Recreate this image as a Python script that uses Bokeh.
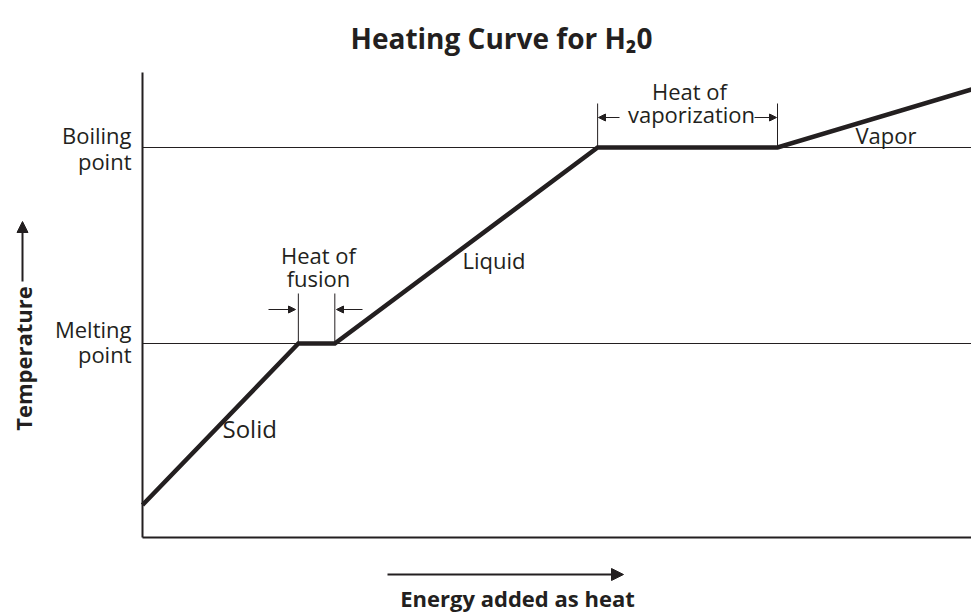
from bokeh.plotting import figure
from bokeh.models import Range1d, Label, Arrow, NormalHead
from bokeh.embed import file_html
from bokeh.resources import INLINE

# ---- data (energy in arbitrary units, temperature: melting = 0, boiling = 100)
energy = [0.0, 18.8, 23.2, 54.9, 76.6, 100.0]
temperature = [-82.4, 0.0, 0.0, 100.0, 100.0, 129.6]
tick_values = [0.0, 100.0]
tick_labels = ["Melting\npoint", "Boiling\npoint"]
phase_labels = ["Solid", "Liquid", "Vapor"]
title_text = "Heating Curve for H\u20820"
x_title = "Energy added as heat"
y_title = "Temperature"

INK = "#231f20"
FONT = "Open Sans"

# ---- layout (pixel geometry of the picture)
W, H = 971, 613
FL, FR, FT, FB = 142, 971, 72, 537          # plotting area edges
Y_MELT_PX, Y_BOIL_PX = 343, 147
yscale = (Y_MELT_PX - Y_BOIL_PX) / (tick_values[1] - tick_values[0])
TEXT_DY = -9   # baseline correction for labels


def dx(px):
    return (px - FL) / (FR - FL) * 100.0


def dy(py):
    return (Y_MELT_PX - py) / yscale


p = figure(width=W, height=H, title=None,
           x_range=Range1d(dx(0), dx(W)),
           y_range=Range1d(dy(H), dy(0)),
           output_backend="svg", toolbar_location=None,
           min_border_left=0, min_border_right=0,
           min_border_top=0, min_border_bottom=0)
p.outline_line_color = None
p.grid.visible = False
p.axis.visible = False
p.background_fill_color = "white"
p.border_fill_color = "white"

x_lo, y_lo, y_hi = 0.0, dy(FB), dy(FT)

# axes lines
p.line([x_lo, x_lo], [y_lo, y_hi], line_color=INK, line_width=2)
p.line([x_lo, 100.0], [y_lo, y_lo], line_color=INK, line_width=2)

# reference lines at melting and boiling points
p.segment(x0=[x_lo] * len(tick_values), y0=tick_values,
          x1=[100.0] * len(tick_values), y1=tick_values,
          line_color=INK, line_width=1)

# heating curve
p.line(energy, temperature, line_color=INK, line_width=4.5, line_join="miter")

# brackets for heats of fusion / vaporization
bx = [energy[1], energy[2], energy[3], energy[4]]
by0 = [temperature[1], temperature[2], temperature[3], temperature[4]]
by1 = [dy(293), dy(293), dy(103), dy(103)]
p.segment(x0=bx, y0=by0, x1=bx, y1=by1, line_color=INK, line_width=1)


def arrow(x0, y0, x1, y1, size, lw):
    p.add_layout(Arrow(x_start=x0, y_start=y0, x_end=x1, y_end=y1,
                       line_color=INK, line_width=lw,
                       end=NormalHead(size=size, fill_color=INK, line_color=INK, line_width=1)))


arrow(dx(268), dy(309), dx(295), dy(309), 7, 1)
arrow(dx(362), dy(309), dx(336), dy(309), 7, 1)
arrow(dx(619), dy(117), dx(598), dy(117), 7, 1)
arrow(dx(754), dy(117), dx(776), dy(117), 7, 1)


def label(text, px, py, size=22, align="left", bold=False, angle=0, shift=True):
    if shift:
        if angle == 0:
            py = py + TEXT_DY
        else:
            px = px + TEXT_DY
    p.add_layout(Label(x=dx(px), y=dy(py), text=text, text_color=INK,
                       text_font=FONT, text_font_size=f"{size}px",
                       text_font_style="bold" if bold else "normal",
                       text_align=align, text_baseline="alphabetic",
                       angle=angle, angle_units="deg"))


# phase labels
label(phase_labels[0], 222, 437, size=24)
label(phase_labels[1], 462, 268)
label(phase_labels[2], 855, 143)

# bracket labels
label("Heat of", 318, 263, align="center")
label("fusion", 318, 286, align="center")
label("Heat of", 689, 99, align="center")
label("vaporization", 691, 122, align="center")

# y tick labels (two lines, right aligned)
tick_px = {0.0: (337, 362), 100.0: (143, 169)}
for v, t in zip(tick_values, tick_labels):
    l1, l2 = t.split("\n")
    b1, b2 = tick_px[v]
    label(l1, 131, b1, align="right")
    label(l2, 131, b2, align="right")

# title
label(title_text, 501, 37, size=28, align="center", bold=True, shift=False)

# x axis title with arrow
arrow(dx(387), dy(574), dx(623), dy(574), 12, 2)
label(x_title, 517, 606, size=22, align="center", bold=True)

# y axis title with arrow
label(y_title, 31, 358, size=22, align="center", bold=True, angle=90)
arrow(dx(22), dy(281), dx(22), dy(221), 11, 2)

open("out.html", "w").write(file_html(p, INLINE))
